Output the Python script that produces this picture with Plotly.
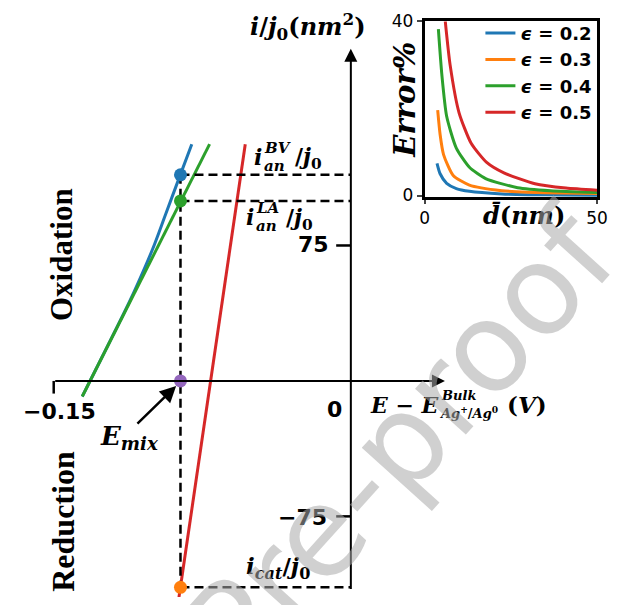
import plotly.graph_objects as go

W, H = 620, 605

# ---------------- main schematic data ----------------
E_MIX = -0.086                      # mixed potential (V)
blue_x = [-0.1356, -0.1123, -0.1071, -0.1001, -0.0934, -0.0861, -0.0803]   # i_an BV
blue_y = [-8.6, 42.6, 55.0, 72.9, 92.6, 114.1, 131.1]
green_x = [-0.1356, -0.0713]        # i_an LA (linear)
green_y = [-8.6, 131.1]
red_x = [-0.0868, -0.0533]          # cathodic
red_y = [-120.0, 131.1]
I_BV, I_LA, I_CAT = 114.1, 99.7, -114.3
X_AXIS = [-0.15, 0.0475]
Y_AXIS = [-116.0, 184.0]
x_tick_vals = [-0.15, 0]
x_tick_text = ["\u22120.15", "0"]
y_tick_vals = [75, -75]
y_tick_text = ["75", "\u221275"]

# ---------------- inset data ----------------
inset_labels = ["0.2", "0.3", "0.4", "0.5"]
inset_colors = ["#1f77b4", "#ff7f0e", "#2ca02c", "#d62728"]
d_02 = [3.6, 4.5, 6.4, 9.2, 13, 22.4, 30, 40, 50]
e_02 = [7.4, 5.0, 2.8, 1.6, 0.96, 0.37, 0.2, 0.12, 0.07]
d_03 = [3.8, 4.5, 5.5, 8.3, 13, 22.4, 30, 40, 50]
e_03 = [19.6, 14.0, 9.4, 4.6, 2.4, 1.1, 0.75, 0.55, 0.44]
d_04 = [4.0, 5.0, 6.4, 9.2, 13, 17.7, 27, 36.5, 50]
e_04 = [38.2, 27.8, 18.2, 10.9, 6.5, 3.9, 1.8, 1.1, 0.7]
d_05 = [6.0, 7.4, 10, 13.5, 18, 23, 32, 41, 50]
e_05 = [40, 30, 19, 12, 7.6, 5.2, 2.7, 1.7, 1.2]
inset_d = [d_02, d_03, d_04, d_05]
inset_e = [e_02, e_03, e_04, e_05]

# pixel -> main-data mapping used for ranges
XR = [(0 - 355) * 0.15 / 305, (620 - 355) * 0.15 / 305]
YR = [(382.3 - 605) / 1.8613, (382.3 - 0) / 1.8613]

MATH = "DejaVu Serif"
SANS = "DejaVu Sans"

fig = go.Figure()

# main curves
fig.add_trace(go.Scatter(x=blue_x, y=blue_y, mode="lines", line=dict(color="#1f77b4", width=3),
                         line_shape="spline", showlegend=False))
fig.add_trace(go.Scatter(x=green_x, y=green_y, mode="lines", line=dict(color="#2ca02c", width=3),
                         showlegend=False))
fig.add_trace(go.Scatter(x=red_x, y=red_y, mode="lines", line=dict(color="#d62728", width=3),
                         showlegend=False))

# dashed guide lines
DASH = "9px,5px"
fig.add_trace(go.Scatter(x=[E_MIX, E_MIX], y=[I_BV, I_CAT], mode="lines",
                         line=dict(color="black", width=2.5, dash=DASH), showlegend=False))
for yy in [I_BV, I_LA, I_CAT]:
    fig.add_trace(go.Scatter(x=[E_MIX, 0], y=[yy, yy], mode="lines",
                             line=dict(color="black", width=2.5, dash=DASH), showlegend=False))

# points
fig.add_trace(go.Scatter(x=[E_MIX, E_MIX, E_MIX, E_MIX], y=[I_BV, I_LA, 0, I_CAT], mode="markers",
                         marker=dict(size=13, color=["#1f77b4", "#2ca02c", "#9467bd", "#ff7f0e"]),
                         showlegend=False, cliponaxis=False))

# inset curves
for d, e, lab, col in zip(inset_d, inset_e, inset_labels, inset_colors):
    fig.add_trace(go.Scatter(x=d, y=e, mode="lines",
                             name="<b><i>\u03f5</i>\u00a0=\u00a0" + lab + "</b>",
                             line=dict(color=col, width=3, shape="spline", smoothing=0.6),
                             xaxis="x2", yaxis="y2"))

ann = []
shapes = []


def P(px, py):
    return px / W, 1 - py / H


def txt(px, py, s, size, family=MATH, xanchor="center", angle=0, color="black"):
    x, y = P(px, py)
    ann.append(dict(x=x, y=y, xref="paper", yref="paper", text=s, showarrow=False,
                    font=dict(size=size, family=family, color=color), xanchor=xanchor,
                    yanchor="middle", textangle=angle))


# axes arrows
ann.append(dict(x=X_AXIS[1], y=0, ax=X_AXIS[0], ay=0, xref="x", yref="y", axref="x", ayref="y",
                text="", showarrow=True, arrowhead=2, arrowsize=1.3, arrowwidth=2, arrowcolor="black"))
ann.append(dict(x=0, y=Y_AXIS[1], ax=0, ay=Y_AXIS[0], xref="x", yref="y", axref="x", ayref="y",
                text="", showarrow=True, arrowhead=2, arrowsize=1.3, arrowwidth=2, arrowcolor="black"))
# E_mix arrow
ann.append(dict(x=-0.0882, y=-2.8, ax=-0.1085, ay=-24.5, xref="x", yref="y", axref="x", ayref="y",
                text="", showarrow=True, arrowhead=2, arrowsize=1.3, arrowwidth=2.5, arrowcolor="black"))

# tick marks
for v in y_tick_vals:
    shapes.append(dict(type="line", x0=-0.0074, x1=0, y0=v, y1=v, xref="x", yref="y",
                       line=dict(color="black", width=2.5)))
shapes.append(dict(type="line", x0=-0.15, x1=-0.15, y0=0, y1=-7, xref="x", yref="y",
                   line=dict(color="black", width=2.5)))

# tick labels
txt(56, 414, "<b>" + x_tick_text[0] + "</b>", 22, SANS)
txt(338, 412, "<b>" + x_tick_text[1] + "</b>", 22, SANS)
txt(317, 242, "<b>" + y_tick_text[0] + "</b>", 22, SANS)
txt(305, 523, "<b>" + y_tick_text[1] + "</b>", 22, SANS)

# axis labels
txt(311, 17, "<b><i>i</i>/<i>j</i><sub>0</sub>(<i>nm</i><sup>2</sup>)</b>", 24)
txt(373, 407, "<b><i>E</i> \u2212 <i>E</i></b>", 22, xanchor="left")
txt(445, 397, "<b><i>Bulk</i></b>", 13, xanchor="left")
txt(443, 415, "<b><i>Ag</i><sup>+</sup>/<i>Ag</i><sup>0</sup></b>", 13, xanchor="left")
txt(513, 407, "<b>(<i>V</i>)</b>", 23, xanchor="left")

# current labels
txt(254, 152, "<b><i>i</i></b>", 22, xanchor="left")
txt(264, 142, "<b><i>BV</i></b>", 15, xanchor="left")
txt(264, 161, "<b><i>an</i></b>", 15, xanchor="left")
txt(296, 153, "<b>/<i>j</i><sub>0</sub></b>", 22, xanchor="left")

txt(245, 213, "<b><i>i</i></b>", 22, xanchor="left")
txt(256, 204, "<b><i>LA</i></b>", 15, xanchor="left")
txt(256, 223, "<b><i>an</i></b>", 15, xanchor="left")
txt(286, 215, "<b>/<i>j</i><sub>0</sub></b>", 22, xanchor="left")

txt(280, 575, "<b><i>i</i><sub><i>cat</i></sub>/<i>j</i><sub>0</sub></b>", 23)
txt(128, 441, "<b><i>E</i><sub><i>mix</i></sub></b>", 26)

txt(58, 252, "<b>Oxidation</b>", 31, "Liberation Serif", angle=-90)
txt(60, 527, "<b>Reduction</b>", 32, "Liberation Serif", angle=-90)

# inset labels
txt(411, 92, "<b><i>Error%</i></b>", 29, angle=-90)
txt(533, 212, "<b><i>d\u0304</i>(<i>nm</i>)</b>", 24)

# watermark
wx, wy = P(242, 628)
ann.append(dict(x=wx, y=wy, xref="paper", yref="paper", text="Journal Pre-proof", showarrow=False,
                font=dict(size=125, family=SANS, color="rgba(170,170,170,0.55)"), textangle=-48,
                xanchor="center", yanchor="middle"))

fig.update_layout(
    width=W, height=H, margin=dict(l=0, r=0, t=0, b=0),
    paper_bgcolor="white", plot_bgcolor="white",
    xaxis=dict(range=XR, visible=False, domain=[0, 1]),
    yaxis=dict(range=YR, visible=False, domain=[0, 1]),
    xaxis2=dict(domain=[430.7 / W, 607.7 / W], anchor="y2", range=[0, 50], tickvals=[0, 50],
                ticks="outside", ticklen=4, tickwidth=1.5, showline=True, mirror=True, linewidth=2.5,
                linecolor="black", showgrid=False, zeroline=False,
                tickfont=dict(size=17, family=SANS, color="black")),
    yaxis2=dict(domain=[1 - 193 / H, 1 - 11.7 / H], anchor="x2", range=[-0.4, 40], tickvals=[0, 40],
                ticks="outside", ticklen=5, tickwidth=1.5, showline=True, mirror=True, linewidth=2.5,
                linecolor="black", showgrid=False, zeroline=False,
                tickfont=dict(size=17, family=SANS, color="black")),
    legend=dict(x=P(488, 0)[0], y=P(0, 5)[1], xanchor="left", yanchor="top",
                bgcolor="rgba(0,0,0,0)", font=dict(size=18, family=SANS, color="black"),
                itemwidth=30, tracegroupgap=0),
    annotations=ann, shapes=shapes,
)

fig.write_html("out.html")
